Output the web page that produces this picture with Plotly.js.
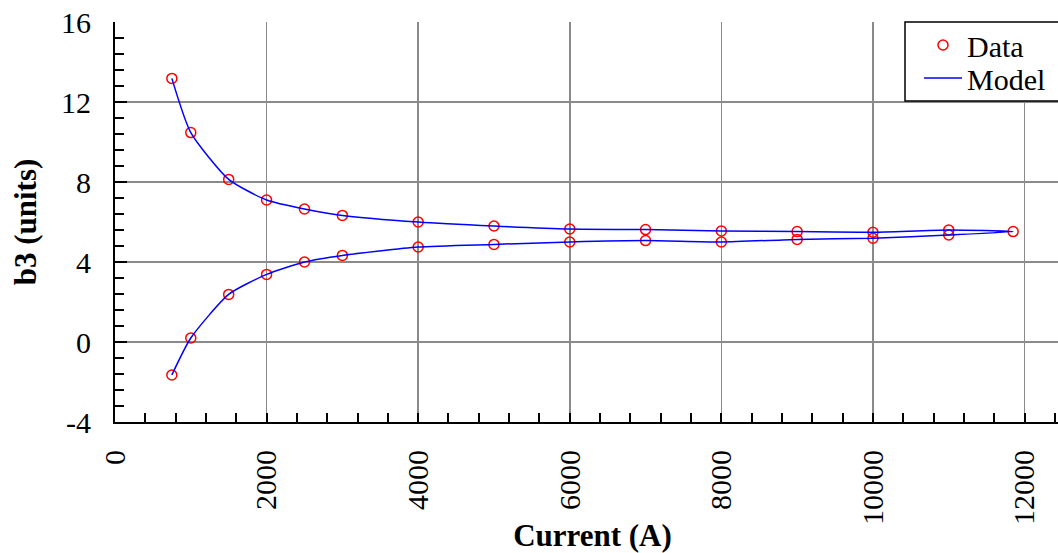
<!DOCTYPE html>
<html>
<head>
<meta charset="utf-8">
<script src="https://cdn.plot.ly/plotly-3.0.1.min.js"></script>
<style>
html,body{margin:0;padding:0;overflow:hidden;background:#fff;}
#chart{width:1070px;height:553px;}
</style>
</head>
<body>
<div id="chart"></div>
<script>
// Data
const currentUp = [750, 1000, 1500, 2000, 2500, 3000, 4000, 5000, 6000, 7000, 8000, 9000, 10000, 11000, 11850];
const b3Up      = [13.18, 10.47, 8.13, 7.1, 6.65, 6.33, 6.0, 5.8, 5.65, 5.62, 5.55, 5.52, 5.49, 5.6, 5.52];
const currentDown = [11000, 10000, 9000, 8000, 7000, 6000, 5000, 4000, 3000, 2500, 2000, 1500, 1000, 750];
const b3Down      = [5.35, 5.19, 5.13, 5.0, 5.07, 5.0, 4.88, 4.75, 4.33, 4.0, 3.38, 2.38, 0.2, -1.65];

const xTickVals = [0, 2000, 4000, 6000, 8000, 10000, 12000];
const yTickVals = [-4, 0, 4, 8, 12, 16];

const dataX = currentUp.concat(currentDown);
const dataY = b3Up.concat(b3Down);

const font = 'Liberation Serif, Times New Roman, serif';
const plotW = 955, plotH = 400;

const traces = [
  {
    x: dataX, y: dataY, type: 'scatter', mode: 'markers', name: 'Data',
    marker: {symbol: 'circle-open', size: 10, color: '#ff0000', line: {width: 1.5, color: '#ff0000'}},
    legend: 'legend'
  },
  {
    x: dataX, y: dataY, type: 'scatter', mode: 'lines', name: 'Model',
    line: {color: '#0000ff', width: 1.5, shape: 'spline', smoothing: 0.6},
    legend: 'legend2'
  }
];

const legendCommon = {
  xanchor: 'left', yanchor: 'top',
  bgcolor: 'rgba(0,0,0,0)', borderwidth: 0,
  font: {family: font, size: 30, color: '#000'},
  itemwidth: 38
};

const layout = {
  width: 1070, height: 553,
  margin: {l: 115, r: 0, t: 22, b: 131},
  paper_bgcolor: '#fff', plot_bgcolor: '#fff',
  font: {family: font, size: 30, color: '#000'},
  showlegend: true,
  legend: Object.assign({x: (919 - 115) / plotW, y: 1 + 3 / plotH}, legendCommon),
  legend2: Object.assign({x: (919 - 115) / plotW, y: 1 - 30 / plotH}, legendCommon),
  shapes: [
    {type: 'rect', xref: 'paper', yref: 'paper',
     x0: (905 - 115) / plotW, x1: 1.2, y0: 1 - (101 - 22) / plotH, y1: 1,
     fillcolor: '#fff', line: {color: '#000', width: 1.5}, layer: 'above'}
  ],
  xaxis: {
    range: [0, 12600], tickmode: 'array', tickvals: xTickVals, ticktext: xTickVals.map(String),
    tickangle: -90, ticks: 'inside', ticklen: 9, tickwidth: 2, tickcolor: '#000',
    minor: {dtick: 400, tick0: 0, ticks: 'inside', ticklen: 9, tickwidth: 2, tickcolor: '#000', showgrid: false},
    showgrid: true, gridcolor: '#8a8a8a', gridwidth: 1.5, zeroline: false,
    showline: true, linecolor: '#000', linewidth: 2,
    tickfont: {family: font, size: 30, color: '#000'},
    ticklabelstandoff: 14,
    title: {text: '<b>Current (A)</b>', font: {family: font, size: 31, color: '#000'}, standoff: 0}
  },
  yaxis: {
    range: [-4, 16], tickmode: 'array', tickvals: yTickVals, ticktext: yTickVals.map(String),
    ticks: 'inside', ticklen: 12, tickwidth: 2, tickcolor: '#000',
    minor: {dtick: 0.8, tick0: 0, ticks: 'inside', ticklen: 9, tickwidth: 2, tickcolor: '#000', showgrid: false},
    showgrid: true, gridcolor: '#8a8a8a', gridwidth: 1.5, zeroline: false,
    showline: true, linecolor: '#000', linewidth: 2,
    tickfont: {family: font, size: 30, color: '#000'},
    ticklabelstandoff: 16,
    title: {text: '<b>b3 (units)</b>', font: {family: font, size: 31, color: '#000'}, standoff: 15}
  }
};

Plotly.newPlot('chart', traces, layout, {displayModeBar: false, staticPlot: true});
</script>
</body>
</html>
